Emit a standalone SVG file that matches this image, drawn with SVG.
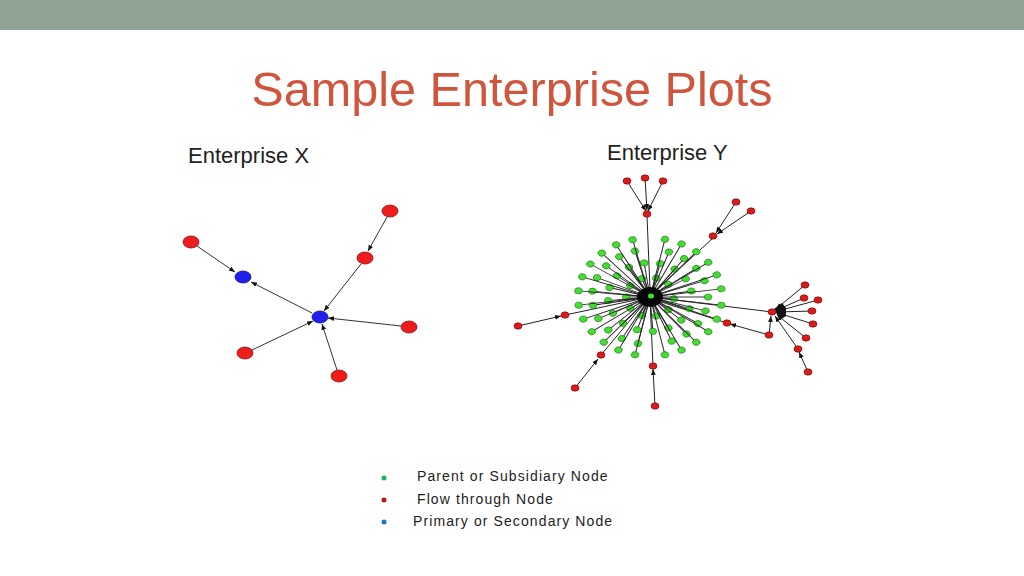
<svg xmlns="http://www.w3.org/2000/svg" xmlns:xlink="http://www.w3.org/1999/xlink" width="1024" height="576" viewBox="0 0 1024 576">
<style>
text{font-family:"Liberation Sans",Arial,sans-serif}
.e{stroke:#333;stroke-width:1;fill:none}
.ey{stroke:#222;stroke-width:1}
.r{fill:#ee1c1c;stroke:#8a1010;stroke-width:0.8}
.rs{fill:#d81c1c;stroke:#700;stroke-width:0.6}
.b{fill:#2020ee;stroke:#101080;stroke-width:0.8}
.g{fill:#44dd33;stroke:#1a6a10;stroke-width:0.6}
</style>
<defs>
<marker id="a" viewBox="0 0 10 10" refX="10" refY="5" markerWidth="6" markerHeight="6" orient="auto"><path d="M0,1L10,5L0,9z" fill="#111"/></marker>
</defs>
<rect width="1024" height="576" fill="#fff"/>
<rect width="1024" height="30" fill="#8fa395"/>
<text x="512" y="106" font-size="48.6" fill="#cf563c" text-anchor="middle">Sample Enterprise Plots</text>
<text x="188" y="163" font-size="22" fill="#222">Enterprise X</text>
<text x="607" y="160" font-size="22" fill="#222">Enterprise Y</text>

<g id="connectors">
<line class="e" x1="197" y1="246" x2="235" y2="272" marker-end="url(#a)"/>
<line class="e" x1="312" y1="313" x2="251" y2="282" marker-end="url(#a)"/>
<line class="e" x1="387" y1="217" x2="368" y2="251" marker-end="url(#a)"/>
<line class="e" x1="361" y1="264" x2="324" y2="311" marker-end="url(#a)"/>
<line class="e" x1="401" y1="326" x2="328" y2="318" marker-end="url(#a)"/>
<line class="e" x1="252" y1="350" x2="313" y2="321" marker-end="url(#a)"/>
<line class="e" x1="337" y1="370" x2="322" y2="324" marker-end="url(#a)"/>
<g class="ey" fill="none">
<line x1="627" y1="181" x2="646" y2="211" marker-end="url(#a)"/>
<line x1="645" y1="178" x2="647" y2="210" marker-end="url(#a)"/>
<line x1="663" y1="181" x2="648" y2="211" marker-end="url(#a)"/>
<line x1="647" y1="216" x2="650" y2="290"/>
<line x1="736" y1="202" x2="716" y2="233" marker-end="url(#a)"/>
<line x1="751" y1="211" x2="717" y2="234" marker-end="url(#a)"/>
<line x1="713" y1="238" x2="652" y2="294"/>
<line x1="650" y1="297" x2="772" y2="312"/>
<line x1="805" y1="285" x2="776" y2="309" marker-end="url(#a)"/>
<line x1="804" y1="298" x2="777" y2="310" marker-end="url(#a)"/>
<line x1="818" y1="300" x2="778" y2="311" marker-end="url(#a)"/>
<line x1="812" y1="311" x2="778" y2="312" marker-end="url(#a)"/>
<line x1="813" y1="324" x2="778" y2="313" marker-end="url(#a)"/>
<line x1="806" y1="338" x2="777" y2="315" marker-end="url(#a)"/>
<line x1="798" y1="349" x2="775" y2="316" marker-end="url(#a)"/>
<line x1="808" y1="372" x2="799" y2="352" marker-end="url(#a)"/>
<line x1="769" y1="335" x2="771" y2="316" marker-end="url(#a)"/>
<line x1="769" y1="335" x2="730" y2="324" marker-end="url(#a)"/>
<line x1="727" y1="323" x2="652" y2="299"/>
<line x1="518" y1="326" x2="561" y2="316" marker-end="url(#a)"/>
<line x1="565" y1="315" x2="645" y2="298"/>
<line x1="575" y1="388" x2="598" y2="359" marker-end="url(#a)"/>
<line x1="601" y1="355" x2="647" y2="300"/>
<line x1="655" y1="406" x2="653" y2="369" marker-end="url(#a)"/>
<line x1="653" y1="366" x2="650" y2="300"/>
</g>
</g>

<g id="enterprise-x">
<ellipse id="x1" class="r" cx="191" cy="242" rx="8" ry="6"/>
<ellipse id="x2" class="b" cx="243" cy="277" rx="8" ry="6"/>
<ellipse id="x3" class="r" cx="390" cy="211" rx="8" ry="6"/>
<ellipse id="x4" class="r" cx="365" cy="258" rx="8" ry="6"/>
<ellipse id="x5" class="b" cx="320" cy="317" rx="8" ry="6"/>
<ellipse id="x6" class="r" cx="409" cy="327" rx="8" ry="6"/>
<ellipse id="x7" class="r" cx="245" cy="353" rx="8" ry="6"/>
<ellipse id="x8" class="r" cx="339" cy="376" rx="8" ry="6"/>
</g>

<g id="enterprise-y-green" transform="translate(650,297) scale(1,0.82)">
<g class="ey">
<g transform="rotate(5)"><line x2="24"/><circle class="g" cx="24" r="3.8"/></g>
<g transform="rotate(40)"><line x2="24"/><circle class="g" cx="24" r="3.8"/></g>
<g transform="rotate(75)"><line x2="24"/><circle class="g" cx="24" r="3.8"/></g>
<g transform="rotate(110)"><line x2="24"/><circle class="g" cx="24" r="3.8"/></g>
<g transform="rotate(145)"><line x2="24"/><circle class="g" cx="24" r="3.8"/></g>
<g transform="rotate(180)"><line x2="24"/><circle class="g" cx="24" r="3.8"/></g>
<g transform="rotate(215)"><line x2="24"/><circle class="g" cx="24" r="3.8"/></g>
<g transform="rotate(250)"><line x2="24"/><circle class="g" cx="24" r="3.8"/></g>
<g transform="rotate(285)"><line x2="24"/><circle class="g" cx="24" r="3.8"/></g>
<g transform="rotate(320)"><line x2="24"/><circle class="g" cx="24" r="3.8"/></g>
<g transform="rotate(20)"><line x2="42"/><circle class="g" cx="42" r="3.8"/></g>
<g transform="rotate(42)"><line x2="42"/><circle class="g" cx="42" r="3.8"/></g>
<g transform="rotate(64)"><line x2="42"/><circle class="g" cx="42" r="3.8"/></g>
<g transform="rotate(86)"><line x2="42"/><circle class="g" cx="42" r="3.8"/></g>
<g transform="rotate(108)"><line x2="42"/><circle class="g" cx="42" r="3.8"/></g>
<g transform="rotate(130)"><line x2="42"/><circle class="g" cx="42" r="3.8"/></g>
<g transform="rotate(152)"><line x2="42"/><circle class="g" cx="42" r="3.8"/></g>
<g transform="rotate(174)"><line x2="42"/><circle class="g" cx="42" r="3.8"/></g>
<g transform="rotate(196)"><line x2="42"/><circle class="g" cx="42" r="3.8"/></g>
<g transform="rotate(218)"><line x2="42"/><circle class="g" cx="42" r="3.8"/></g>
<g transform="rotate(240)"><line x2="42"/><circle class="g" cx="42" r="3.8"/></g>
<g transform="rotate(262)"><line x2="42"/><circle class="g" cx="42" r="3.8"/></g>
<g transform="rotate(284)"><line x2="42"/><circle class="g" cx="42" r="3.8"/></g>
<g transform="rotate(306)"><line x2="42"/><circle class="g" cx="42" r="3.8"/></g>
<g transform="rotate(328)"><line x2="42"/><circle class="g" cx="42" r="3.8"/></g>
<g transform="rotate(350)"><line x2="42"/><circle class="g" cx="42" r="3.8"/></g>
<g transform="rotate(0)"><line x2="58"/><circle class="g" cx="58" r="3.8"/></g>
<g transform="rotate(17)"><line x2="58"/><circle class="g" cx="58" r="3.8"/></g>
<g transform="rotate(34)"><line x2="58"/><circle class="g" cx="58" r="3.8"/></g>
<g transform="rotate(51)"><line x2="58"/><circle class="g" cx="58" r="3.8"/></g>
<g transform="rotate(68)"><line x2="58"/><circle class="g" cx="58" r="3.8"/></g>
<g transform="rotate(102)"><line x2="58"/><circle class="g" cx="58" r="3.8"/></g>
<g transform="rotate(119)"><line x2="58"/><circle class="g" cx="58" r="3.8"/></g>
<g transform="rotate(136)"><line x2="58"/><circle class="g" cx="58" r="3.8"/></g>
<g transform="rotate(153)"><line x2="58"/><circle class="g" cx="58" r="3.8"/></g>
<g transform="rotate(170)"><line x2="58"/><circle class="g" cx="58" r="3.8"/></g>
<g transform="rotate(187)"><line x2="58"/><circle class="g" cx="58" r="3.8"/></g>
<g transform="rotate(204)"><line x2="58"/><circle class="g" cx="58" r="3.8"/></g>
<g transform="rotate(221)"><line x2="58"/><circle class="g" cx="58" r="3.8"/></g>
<g transform="rotate(238)"><line x2="58"/><circle class="g" cx="58" r="3.8"/></g>
<g transform="rotate(255)"><line x2="58"/><circle class="g" cx="58" r="3.8"/></g>
<g transform="rotate(289)"><line x2="58"/><circle class="g" cx="58" r="3.8"/></g>
<g transform="rotate(306)"><line x2="58"/><circle class="g" cx="58" r="3.8"/></g>
<g transform="rotate(323)"><line x2="58"/><circle class="g" cx="58" r="3.8"/></g>
<g transform="rotate(340)"><line x2="58"/><circle class="g" cx="58" r="3.8"/></g>
<g transform="rotate(8)"><line x2="72"/><circle class="g" cx="72" r="3.8"/></g>
<g transform="rotate(22)"><line x2="72"/><circle class="g" cx="72" r="3.8"/></g>
<g transform="rotate(36)"><line x2="72"/><circle class="g" cx="72" r="3.8"/></g>
<g transform="rotate(50)"><line x2="72"/><circle class="g" cx="72" r="3.8"/></g>
<g transform="rotate(64)"><line x2="72"/><circle class="g" cx="72" r="3.8"/></g>
<g transform="rotate(78)"><line x2="72"/><circle class="g" cx="72" r="3.8"/></g>
<g transform="rotate(102)"><line x2="72"/><circle class="g" cx="72" r="3.8"/></g>
<g transform="rotate(116)"><line x2="72"/><circle class="g" cx="72" r="3.8"/></g>
<g transform="rotate(130)"><line x2="72"/><circle class="g" cx="72" r="3.8"/></g>
<g transform="rotate(144)"><line x2="72"/><circle class="g" cx="72" r="3.8"/></g>
<g transform="rotate(158)"><line x2="72"/><circle class="g" cx="72" r="3.8"/></g>
<g transform="rotate(172)"><line x2="72"/><circle class="g" cx="72" r="3.8"/></g>
<g transform="rotate(186)"><line x2="72"/><circle class="g" cx="72" r="3.8"/></g>
<g transform="rotate(200)"><line x2="72"/><circle class="g" cx="72" r="3.8"/></g>
<g transform="rotate(214)"><line x2="72"/><circle class="g" cx="72" r="3.8"/></g>
<g transform="rotate(228)"><line x2="72"/><circle class="g" cx="72" r="3.8"/></g>
<g transform="rotate(242)"><line x2="72"/><circle class="g" cx="72" r="3.8"/></g>
<g transform="rotate(256)"><line x2="72"/><circle class="g" cx="72" r="3.8"/></g>
<g transform="rotate(282)"><line x2="72"/><circle class="g" cx="72" r="3.8"/></g>
<g transform="rotate(296)"><line x2="72"/><circle class="g" cx="72" r="3.8"/></g>
<g transform="rotate(310)"><line x2="72"/><circle class="g" cx="72" r="3.8"/></g>
<g transform="rotate(324)"><line x2="72"/><circle class="g" cx="72" r="3.8"/></g>
<g transform="rotate(338)"><line x2="72"/><circle class="g" cx="72" r="3.8"/></g>
<g transform="rotate(352)"><line x2="72"/><circle class="g" cx="72" r="3.8"/></g>
</g>
</g>

<g id="enterprise-y-hub">
<ellipse cx="650" cy="297" rx="13" ry="10" fill="#050505"/>
<ellipse cx="651" cy="296" rx="3" ry="2.5" fill="#44dd33"/>
<path d="M774,309 L782,303 L786,308 L786,316 L780,320 z" fill="#111"/>
</g>

<g id="enterprise-y-red">
<ellipse class="rs" cx="627" cy="181" rx="4" ry="3.2"/>
<ellipse class="rs" cx="645" cy="178" rx="4" ry="3.2"/>
<ellipse class="rs" cx="663" cy="181" rx="4" ry="3.2"/>
<ellipse class="rs" cx="647" cy="214" rx="4" ry="3.2"/>
<ellipse class="rs" cx="736" cy="202" rx="4" ry="3.2"/>
<ellipse class="rs" cx="751" cy="211" rx="4" ry="3.2"/>
<ellipse class="rs" cx="713" cy="236" rx="4" ry="3.2"/>
<ellipse class="rs" cx="772" cy="312" rx="4" ry="3.2"/>
<ellipse class="rs" cx="805" cy="285" rx="4" ry="3.2"/>
<ellipse class="rs" cx="804" cy="298" rx="4" ry="3.2"/>
<ellipse class="rs" cx="818" cy="300" rx="4" ry="3.2"/>
<ellipse class="rs" cx="812" cy="311" rx="4" ry="3.2"/>
<ellipse class="rs" cx="813" cy="324" rx="4" ry="3.2"/>
<ellipse class="rs" cx="806" cy="338" rx="4" ry="3.2"/>
<ellipse class="rs" cx="798" cy="349" rx="4" ry="3.2"/>
<ellipse class="rs" cx="808" cy="372" rx="4" ry="3.2"/>
<ellipse class="rs" cx="769" cy="335" rx="4" ry="3.2"/>
<ellipse class="rs" cx="727" cy="323" rx="4" ry="3.2"/>
<ellipse class="rs" cx="518" cy="326" rx="4" ry="3.2"/>
<ellipse class="rs" cx="565" cy="315" rx="4" ry="3.2"/>
<ellipse class="rs" cx="575" cy="388" rx="4" ry="3.2"/>
<ellipse class="rs" cx="601" cy="355" rx="4" ry="3.2"/>
<ellipse class="rs" cx="655" cy="406" rx="4" ry="3.2"/>
<ellipse class="rs" cx="653" cy="366" rx="4" ry="3.2"/>
</g>

<g id="legend" font-size="14" letter-spacing="1.1" fill="#222">
<circle cx="384" cy="478" r="2.5" fill="#1fae5a"/>
<text x="417" y="481">Parent or Subsidiary Node</text>
<circle cx="384" cy="500" r="2.5" fill="#c0141c"/>
<text x="417" y="504">Flow through Node</text>
<circle cx="384" cy="522" r="2.5" fill="#1a78c8"/>
<text x="413" y="526">Primary or Secondary Node</text>
</g>
</svg>
